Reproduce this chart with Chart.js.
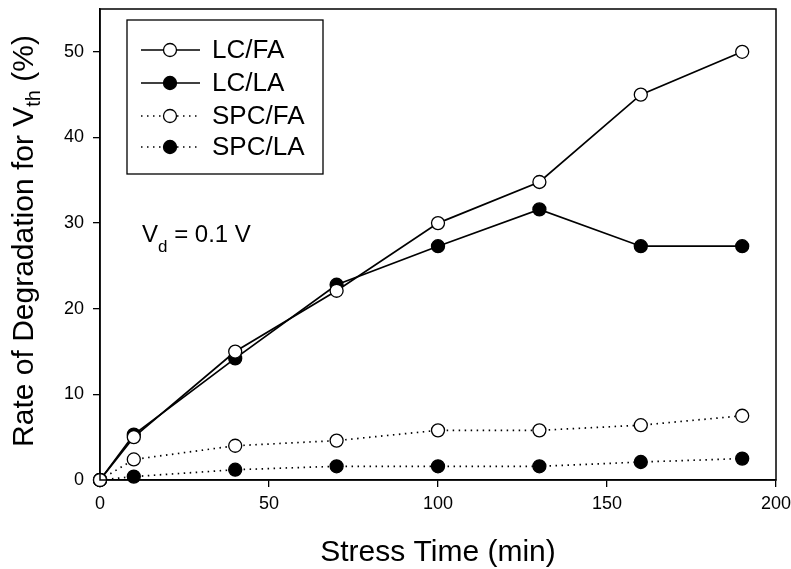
<!DOCTYPE html>
<html>
<head>
<meta charset="utf-8">
<script src="https://cdn.jsdelivr.net/npm/chart.js@4"></script>
<style>
  html, body { margin: 0; padding: 0; background: #fff; }
  #wrap { width: 791px; height: 569px; }
</style>
</head>
<body>
<div id="wrap"><canvas id="chart" width="791" height="569"></canvas></div>
<script>
// data
const stressTime = [0, 10, 40, 70, 100, 130, 160, 190];
const lcFA  = [0, 5.0, 15.0, 22.1, 30.0, 34.8, 45.0, 50.0];
const lcLA  = [0, 5.3, 14.2, 22.8, 27.3, 31.6, 27.3, 27.3];
const spcFA = [0, 2.4, 4.0, 4.6, 5.8, 5.8, 6.4, 7.5];
const spcLA = [0, 0.4, 1.2, 1.6, 1.6, 1.6, 2.1, 2.5];
const seriesNames = ['LC/FA', 'LC/LA', 'SPC/FA', 'SPC/LA'];
const xTicks = [0, 50, 100, 150, 200];
const yTicks = [0, 10, 20, 30, 40, 50];

const FONT = '"Liberation Sans", Arial, sans-serif';

function toXY(vals) {
    return vals.map((v, i) => ({ x: stressTime[i], y: v }));
}

function makeSet(label, vals, filled, dotted) {
    return {
        label: label,
        data: toXY(vals),
        borderColor: '#000',
        borderWidth: 1.7,
        borderDash: dotted ? [1.5, 4.5] : [],
        pointBackgroundColor: filled ? '#000' : '#fff',
        pointBorderColor: '#000',
        pointBorderWidth: 1.3,
        pointRadius: 6.5,
        pointHoverRadius: 6.5,
        tension: 0,
        clip: false
    };
}

// box around the plot area + titles + legend + annotation
const decorations = {
    id: 'decorations',
    afterDatasetsDraw(chart) {
        const ctx = chart.ctx;
        const a = chart.chartArea;
        ctx.save();
        ctx.strokeStyle = '#000';
        ctx.lineWidth = 1.5;
        ctx.strokeRect(a.left, a.top, a.right - a.left, a.bottom - a.top);

        ctx.fillStyle = '#000';
        // x title
        ctx.font = '30px ' + FONT;
        ctx.textAlign = 'center';
        ctx.textBaseline = 'alphabetic';
        ctx.fillText('Stress Time (min)', (a.left + a.right) / 2, 561);

        // y title with subscript
        ctx.save();
        ctx.translate(33, 241);
        ctx.rotate(-Math.PI / 2);
        const p1 = 'Rate of Degradation for V', sub = 'th', p2 = ' (%)';
        ctx.font = '30px ' + FONT;
        const w1 = ctx.measureText(p1).width, w3 = ctx.measureText(p2).width;
        ctx.font = '20px ' + FONT;
        const w2 = ctx.measureText(sub).width;
        let x = -(w1 + w2 + w3) / 2;
        ctx.textAlign = 'left';
        ctx.font = '30px ' + FONT;
        ctx.fillText(p1, x, 0);
        x += w1;
        ctx.font = '20px ' + FONT;
        ctx.fillText(sub, x, 7);
        x += w2;
        ctx.font = '30px ' + FONT;
        ctx.fillText(p2, x, 0);
        ctx.restore();

        // annotation V_d = 0.1 V
        ctx.textAlign = 'left';
        ctx.textBaseline = 'alphabetic';
        ctx.font = '24px ' + FONT;
        ctx.fillText('V', 142, 242);
        let ax = 142 + ctx.measureText('V').width;
        ctx.font = '17px ' + FONT;
        ctx.fillText('d', ax, 252);
        ax += ctx.measureText('d').width;
        ctx.font = '24px ' + FONT;
        ctx.fillText(' = 0.1 V', ax, 242);

        // legend
        ctx.lineWidth = 1.3;
        ctx.strokeRect(127, 20, 196, 154);
        chart.data.datasets.forEach((ds, i) => {
            const y = [50, 83, 116, 147][i];
            ctx.save();
            ctx.strokeStyle = ds.borderColor;
            ctx.lineWidth = ds.borderWidth;
            ctx.setLineDash(ds.borderDash);
            ctx.beginPath();
            ctx.moveTo(141, y);
            ctx.lineTo(200, y);
            ctx.stroke();
            ctx.setLineDash([]);
            ctx.beginPath();
            ctx.arc(170, y, ds.pointRadius, 0, Math.PI * 2);
            ctx.fillStyle = ds.pointBackgroundColor;
            ctx.fill();
            ctx.lineWidth = ds.pointBorderWidth;
            ctx.stroke();
            ctx.restore();
            ctx.font = '26px ' + FONT;
            ctx.textBaseline = 'middle';
            ctx.fillText(ds.label, 212, y + 1);
        });
        ctx.restore();
    }
};

new Chart(document.getElementById('chart').getContext('2d'), {
    type: 'line',
    data: {
        datasets: [
            makeSet(seriesNames[0], lcFA, false, false),
            makeSet(seriesNames[1], lcLA, true, false),
            makeSet(seriesNames[2], spcFA, false, true),
            makeSet(seriesNames[3], spcLA, true, true)
        ]
    },
    options: {
        responsive: false,
        animation: false,
        layout: { padding: { left: 0, top: 9, right: 15, bottom: 0 } },
        plugins: {
            legend: { display: false },
            tooltip: { enabled: false }
        },
        scales: {
            x: {
                type: 'linear',
                min: 0,
                max: 200,
                afterBuildTicks: s => { s.ticks = xTicks.map(v => ({ value: v })); },
                afterFit: s => { s.height = 89; s.paddingLeft = 0; s.paddingRight = 0; },
                grid: { drawOnChartArea: false, drawTicks: true, tickLength: 7, color: '#000', lineWidth: 1.3 },
                border: { color: '#000', width: 1.5 },
                ticks: { color: '#000', font: { family: FONT, size: 18 }, padding: 6, maxRotation: 0 }
            },
            y: {
                type: 'linear',
                min: 0,
                max: 55,
                afterBuildTicks: s => { s.ticks = yTicks.map(v => ({ value: v })); },
                afterFit: s => { s.width = 100; s.paddingTop = 0; s.paddingBottom = 0; },
                grid: { drawOnChartArea: false, drawTicks: true, tickLength: 7, color: '#000', lineWidth: 1.3 },
                border: { color: '#000', width: 1.5 },
                ticks: { color: '#000', font: { family: FONT, size: 18 }, padding: 9 }
            }
        }
    },
    plugins: [decorations]
});
</script>
</body>
</html>
